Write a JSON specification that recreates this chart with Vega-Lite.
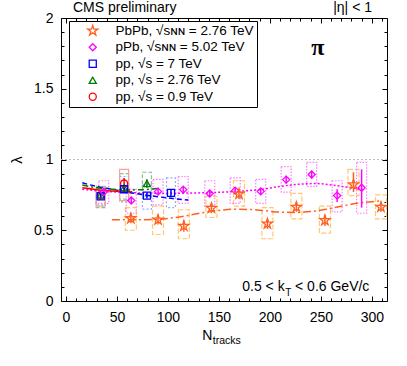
{
  "$schema": "https://vega.github.io/schema/vega-lite/v6.json",
  "width": 326,
  "height": 283,
  "autosize": {"type": "none"},
  "padding": {"left": 61, "top": 18, "right": 20, "bottom": 65},
  "background": "white",
  "config": {
    "view": {"stroke": "black", "strokeWidth": 1},
    "font": "Liberation Sans",
    "axis": {"domain": false, "grid": false, "tickColor": "black", "labelColor": "black", "labelFont": "Liberation Sans", "labelFontSize": 14, "titleFont": "Liberation Sans", "titleColor": "black"},
    "legend": {"labelFont": "Liberation Sans"}
  },
  "datasets": {
    "pts": [
      {"s": "pp09", "N": 34, "l": 0.745, "lo": 0.725, "hi": 0.765, "slo": 0.67, "shi": 0.80},
      {"s": "pp09", "N": 57, "l": 0.83, "lo": 0.79, "hi": 0.87, "slo": 0.71, "shi": 0.93},
      {"s": "pp276", "N": 34, "l": 0.75, "lo": 0.73, "hi": 0.77, "slo": 0.66, "shi": 0.81},
      {"s": "pp276", "N": 57, "l": 0.80, "lo": 0.78, "hi": 0.82, "slo": 0.72, "shi": 0.90},
      {"s": "pp276", "N": 79.4, "l": 0.83, "lo": 0.80, "hi": 0.86, "slo": 0.74, "shi": 0.91},
      {"s": "pp7", "N": 34, "l": 0.74, "lo": 0.72, "hi": 0.76, "slo": 0.68, "shi": 0.80},
      {"s": "pp7", "N": 57, "l": 0.79, "lo": 0.77, "hi": 0.81, "slo": 0.70, "shi": 0.88},
      {"s": "pp7", "N": 79.4, "l": 0.745, "lo": 0.725, "hi": 0.765, "slo": 0.65, "shi": 0.82},
      {"s": "pp7", "N": 103, "l": 0.764, "lo": 0.74, "hi": 0.79, "slo": 0.66, "shi": 0.87},
      {"s": "pPb", "N": 37, "l": 0.77, "lo": 0.75, "hi": 0.79, "slo": 0.69, "shi": 0.85},
      {"s": "pPb", "N": 64, "l": 0.71, "lo": 0.69, "hi": 0.73, "slo": 0.62, "shi": 0.79},
      {"s": "pPb", "N": 90.3, "l": 0.773, "lo": 0.75, "hi": 0.80, "slo": 0.68, "shi": 0.86},
      {"s": "pPb", "N": 115, "l": 0.787, "lo": 0.76, "hi": 0.81, "slo": 0.69, "shi": 0.88},
      {"s": "pPb", "N": 141, "l": 0.76, "lo": 0.735, "hi": 0.785, "slo": 0.67, "shi": 0.85},
      {"s": "pPb", "N": 166, "l": 0.78, "lo": 0.755, "hi": 0.805, "slo": 0.69, "shi": 0.87},
      {"s": "pPb", "N": 191, "l": 0.775, "lo": 0.75, "hi": 0.80, "slo": 0.69, "shi": 0.86},
      {"s": "pPb", "N": 216, "l": 0.858, "lo": 0.83, "hi": 0.885, "slo": 0.77, "shi": 0.95},
      {"s": "pPb", "N": 241, "l": 0.894, "lo": 0.865, "hi": 0.92, "slo": 0.81, "shi": 0.98},
      {"s": "pPb", "N": 266, "l": 0.745, "lo": 0.70, "hi": 0.79, "slo": 0.63, "shi": 0.85},
      {"s": "pPb", "N": 290, "l": 0.80, "lo": 0.66, "hi": 0.93, "slo": 0.62, "shi": 0.98},
      {"s": "PbPb", "N": 63.6, "l": 0.584, "lo": 0.55, "hi": 0.62, "slo": 0.50, "shi": 0.66},
      {"s": "PbPb", "N": 90.3, "l": 0.574, "lo": 0.54, "hi": 0.61, "slo": 0.47, "shi": 0.67},
      {"s": "PbPb", "N": 115.6, "l": 0.53, "lo": 0.49, "hi": 0.57, "slo": 0.44, "shi": 0.645},
      {"s": "PbPb", "N": 142.7, "l": 0.657, "lo": 0.62, "hi": 0.69, "slo": 0.59, "shi": 0.74},
      {"s": "PbPb", "N": 169.7, "l": 0.757, "lo": 0.72, "hi": 0.79, "slo": 0.67, "shi": 0.85},
      {"s": "PbPb", "N": 197.6, "l": 0.546, "lo": 0.51, "hi": 0.58, "slo": 0.44, "shi": 0.66},
      {"s": "PbPb", "N": 226, "l": 0.664, "lo": 0.63, "hi": 0.70, "slo": 0.58, "shi": 0.76},
      {"s": "PbPb", "N": 254, "l": 0.57, "lo": 0.53, "hi": 0.61, "slo": 0.48, "shi": 0.67},
      {"s": "PbPb", "N": 282, "l": 0.823, "lo": 0.77, "hi": 0.91, "slo": 0.745, "shi": 0.93},
      {"s": "PbPb", "N": 309, "l": 0.664, "lo": 0.63, "hi": 0.70, "slo": 0.58, "shi": 0.75}
    ],
    "fits": [
      {"s": "PbPb", "N": 45, "l": 0.575}, {"s": "PbPb", "N": 60, "l": 0.574}, {"s": "PbPb", "N": 75, "l": 0.574},
      {"s": "PbPb", "N": 90, "l": 0.577}, {"s": "PbPb", "N": 105, "l": 0.588}, {"s": "PbPb", "N": 120, "l": 0.605},
      {"s": "PbPb", "N": 135, "l": 0.625}, {"s": "PbPb", "N": 150, "l": 0.64}, {"s": "PbPb", "N": 165, "l": 0.648},
      {"s": "PbPb", "N": 180, "l": 0.647}, {"s": "PbPb", "N": 195, "l": 0.638}, {"s": "PbPb", "N": 210, "l": 0.628},
      {"s": "PbPb", "N": 225, "l": 0.626}, {"s": "PbPb", "N": 240, "l": 0.632}, {"s": "PbPb", "N": 255, "l": 0.648},
      {"s": "PbPb", "N": 270, "l": 0.67}, {"s": "PbPb", "N": 285, "l": 0.69}, {"s": "PbPb", "N": 300, "l": 0.702},
      {"s": "PbPb", "N": 310, "l": 0.708},
      {"s": "pPb", "N": 16, "l": 0.79}, {"s": "pPb", "N": 30, "l": 0.78}, {"s": "pPb", "N": 50, "l": 0.77},
      {"s": "pPb", "N": 70, "l": 0.764}, {"s": "pPb", "N": 90, "l": 0.762}, {"s": "pPb", "N": 110, "l": 0.762},
      {"s": "pPb", "N": 130, "l": 0.764}, {"s": "pPb", "N": 150, "l": 0.768}, {"s": "pPb", "N": 170, "l": 0.776},
      {"s": "pPb", "N": 190, "l": 0.787}, {"s": "pPb", "N": 210, "l": 0.81}, {"s": "pPb", "N": 230, "l": 0.826},
      {"s": "pPb", "N": 245, "l": 0.83}, {"s": "pPb", "N": 260, "l": 0.82}, {"s": "pPb", "N": 275, "l": 0.805},
      {"s": "pPb", "N": 292, "l": 0.785},
      {"s": "pp7", "N": 16, "l": 0.835}, {"s": "pp7", "N": 30, "l": 0.81}, {"s": "pp7", "N": 45, "l": 0.79},
      {"s": "pp7", "N": 60, "l": 0.77}, {"s": "pp7", "N": 75, "l": 0.752}, {"s": "pp7", "N": 90, "l": 0.737},
      {"s": "pp7", "N": 105, "l": 0.724}, {"s": "pp7", "N": 120, "l": 0.713},
      {"s": "pp276", "N": 16, "l": 0.82}, {"s": "pp276", "N": 30, "l": 0.80}, {"s": "pp276", "N": 45, "l": 0.79},
      {"s": "pp276", "N": 60, "l": 0.785}, {"s": "pp276", "N": 75, "l": 0.787}, {"s": "pp276", "N": 90, "l": 0.795},
      {"s": "pp09", "N": 16, "l": 0.80}, {"s": "pp09", "N": 30, "l": 0.787}, {"s": "pp09", "N": 45, "l": 0.778},
      {"s": "pp09", "N": 65, "l": 0.772}
    ]
  },
  "resolve": {"axis": {"x": "independent", "y": "independent"}},
  "layer": [
    {
      "data": {"values": [{}]},
      "mark": {"type": "point", "opacity": 0},
      "encoding": {
        "x": {"datum": 0, "type": "quantitative", "scale": {"domain": [0, 310], "nice": false, "zero": false},
          "axis": {"orient": "bottom", "values": [0, 50, 100, 150, 200, 250, 300], "tickSize": -5, "labelPadding": 14, "title": null, "labelFlush": false}},
        "y": {"datum": 0, "type": "quantitative", "scale": {"domain": [0, 2], "nice": false, "zero": false},
          "axis": {"orient": "left", "values": [0, 0.5, 1, 1.5, 2], "format": "~g", "tickSize": -5, "labelPadding": 13, "title": "λ", "titleFontSize": 15, "titleFontWeight": "normal", "titlePadding": 9, "labelFlush": false}}
      }
    },
    {
      "data": {"values": [{}]},
      "mark": {"type": "point", "opacity": 0},
      "encoding": {
        "x": {"datum": 0, "type": "quantitative",
          "axis": {"orient": "bottom", "values": [10, 20, 30, 40, 60, 70, 80, 90, 110, 120, 130, 140, 160, 170, 180, 190, 210, 220, 230, 240, 260, 270, 280, 290, 310], "tickSize": -3, "labels": false, "title": null}},
        "y": {"datum": 0, "type": "quantitative",
          "axis": {"orient": "left", "values": [0.1, 0.2, 0.3, 0.4, 0.6, 0.7, 0.8, 0.9, 1.1, 1.2, 1.3, 1.4, 1.6, 1.7, 1.8, 1.9], "tickSize": -3, "labels": false, "title": null}}
      }
    },
    {
      "data": {"values": [{}]},
      "mark": {"type": "point", "opacity": 0},
      "encoding": {
        "x": {"datum": 0, "type": "quantitative",
          "axis": {"orient": "top", "values": [0, 50, 100, 150, 200, 250, 300], "tickSize": -5, "labels": false, "title": null}},
        "y": {"datum": 0, "type": "quantitative",
          "axis": {"orient": "right", "values": [0, 0.5, 1, 1.5, 2], "tickSize": -5, "labels": false, "title": null}}
      }
    },
    {
      "data": {"values": [{}]},
      "mark": {"type": "point", "opacity": 0},
      "encoding": {
        "x": {"datum": 0, "type": "quantitative",
          "axis": {"orient": "top", "values": [10, 20, 30, 40, 60, 70, 80, 90, 110, 120, 130, 140, 160, 170, 180, 190, 210, 220, 230, 240, 260, 270, 280, 290, 310], "tickSize": -3, "labels": false, "title": null}},
        "y": {"datum": 0, "type": "quantitative",
          "axis": {"orient": "right", "values": [0.1, 0.2, 0.3, 0.4, 0.6, 0.7, 0.8, 0.9, 1.1, 1.2, 1.3, 1.4, 1.6, 1.7, 1.8, 1.9], "tickSize": -3, "labels": false, "title": null}}
      }
    },
    {
      "data": {"values": [{}]},
      "mark": {"type": "rule", "color": "#c0c0c0", "strokeDash": [2, 2], "strokeWidth": 1},
      "encoding": {"y": {"datum": 1, "type": "quantitative", "axis": null}}
    },
    {
      "data": {"name": "pts"},
      "transform": [{"filter": "datum.s === 'PbPb'"}],
      "mark": {"type": "bar", "width": 11, "fill": "transparent", "stroke": "#ffc870", "strokeWidth": 1.2, "strokeDash": [5, 2]},
      "encoding": {"x": {"field": "N", "type": "quantitative", "axis": null}, "y": {"field": "slo", "type": "quantitative", "axis": null}, "y2": {"field": "shi"}}
    },
    {
      "data": {"name": "pts"},
      "transform": [{"filter": "datum.s === 'pPb'"}],
      "mark": {"type": "bar", "width": 10, "fill": "transparent", "stroke": "#ff7cff", "strokeWidth": 1.2, "strokeDash": [1.5, 1.5]},
      "encoding": {"x": {"field": "N", "type": "quantitative", "axis": null}, "y": {"field": "slo", "type": "quantitative", "axis": null}, "y2": {"field": "shi"}}
    },
    {
      "data": {"name": "pts"},
      "transform": [{"filter": "datum.s === 'pp7'"}],
      "mark": {"type": "bar", "width": 9, "fill": "transparent", "stroke": "#9aa8ff", "strokeWidth": 1.2, "strokeDash": [2, 2]},
      "encoding": {"x": {"field": "N", "type": "quantitative", "axis": null}, "y": {"field": "slo", "type": "quantitative", "axis": null}, "y2": {"field": "shi"}}
    },
    {
      "data": {"name": "pts"},
      "transform": [{"filter": "datum.s === 'pp276'"}],
      "mark": {"type": "bar", "width": 9, "fill": "transparent", "stroke": "#8fc08f", "strokeWidth": 1.2, "strokeDash": [4, 2]},
      "encoding": {"x": {"field": "N", "type": "quantitative", "axis": null}, "y": {"field": "slo", "type": "quantitative", "axis": null}, "y2": {"field": "shi"}}
    },
    {
      "data": {"name": "pts"},
      "transform": [{"filter": "datum.s === 'pp09'"}],
      "mark": {"type": "bar", "width": 9, "fill": "transparent", "stroke": "#f7a0a0", "strokeWidth": 1.2},
      "encoding": {"x": {"field": "N", "type": "quantitative", "axis": null}, "y": {"field": "slo", "type": "quantitative", "axis": null}, "y2": {"field": "shi"}}
    },
    {
      "data": {"name": "fits"},
      "transform": [{"filter": "datum.s === 'PbPb'"}],
      "mark": {"type": "line", "strokeWidth": 1.5, "interpolate": "monotone", "color": "#ff6020", "strokeDash": [8, 3, 2, 3]},
      "encoding": {"x": {"field": "N", "type": "quantitative", "axis": null}, "y": {"field": "l", "type": "quantitative", "axis": null}}
    },
    {
      "data": {"name": "fits"},
      "transform": [{"filter": "datum.s === 'pPb'"}],
      "mark": {"type": "line", "strokeWidth": 1.5, "interpolate": "monotone", "color": "#ff00ff", "strokeDash": [2, 2]},
      "encoding": {"x": {"field": "N", "type": "quantitative", "axis": null}, "y": {"field": "l", "type": "quantitative", "axis": null}}
    },
    {
      "data": {"name": "fits"},
      "transform": [{"filter": "datum.s === 'pp7'"}],
      "mark": {"type": "line", "strokeWidth": 1.5, "interpolate": "monotone", "color": "#0000ff", "strokeDash": [5, 3]},
      "encoding": {"x": {"field": "N", "type": "quantitative", "axis": null}, "y": {"field": "l", "type": "quantitative", "axis": null}}
    },
    {
      "data": {"name": "fits"},
      "transform": [{"filter": "datum.s === 'pp276'"}],
      "mark": {"type": "line", "strokeWidth": 1.5, "interpolate": "monotone", "color": "#007a00", "strokeDash": [6, 3, 2, 3]},
      "encoding": {"x": {"field": "N", "type": "quantitative", "axis": null}, "y": {"field": "l", "type": "quantitative", "axis": null}}
    },
    {
      "data": {"name": "fits"},
      "transform": [{"filter": "datum.s === 'pp09'"}],
      "mark": {"type": "line", "strokeWidth": 1.5, "interpolate": "monotone", "color": "#ff0000"},
      "encoding": {"x": {"field": "N", "type": "quantitative", "axis": null}, "y": {"field": "l", "type": "quantitative", "axis": null}}
    },
    {
      "data": {"name": "pts"},
      "mark": {"type": "rule", "strokeWidth": 1.5},
      "encoding": {
        "x": {"field": "N", "type": "quantitative", "axis": null},
        "y": {"field": "lo", "type": "quantitative", "axis": null},
        "y2": {"field": "hi"},
        "color": {"field": "s", "type": "nominal", "scale": {"domain": ["PbPb", "pPb", "pp7", "pp276", "pp09"], "range": ["#ff6020", "#ff00ff", "#0000ff", "#007a00", "#ff0000"]}}
      }
    },
    {
      "data": {"name": "pts"},
      "mark": {"type": "point", "filled": false, "strokeWidth": 1.3, "size": 50, "opacity": 1},
      "encoding": {
        "x": {"field": "N", "type": "quantitative", "axis": null},
        "y": {"field": "l", "type": "quantitative", "axis": null},
        "color": {"field": "s", "type": "nominal",
          "legend": {"orient": "none", "legendX": 8, "legendY": 3, "title": null, "strokeColor": "black", "fillColor": "white", "padding": 3, "labelFontSize": 13.5, "symbolSize": 50, "symbolStrokeWidth": 1.3, "symbolOffset": 14, "labelOffset": 16, "rowPadding": 1.5,
            "labelExpr": "{'PbPb': 'PbPb, √sɴɴ = 2.76 TeV', 'pPb': 'pPb, √sɴɴ = 5.02 TeV', 'pp7': 'pp, √s = 7 TeV', 'pp276': 'pp, √s = 2.76 TeV', 'pp09': 'pp, √s = 0.9 TeV'}[datum.label] + '  '"}},
        "shape": {"field": "s", "type": "nominal", "scale": {"domain": ["PbPb", "pPb", "pp7", "pp276", "pp09"], "range": ["M0,-1.5L0.34,-0.46L1.43,-0.46L0.55,0.18L0.88,1.22L0,0.57L-0.88,1.22L-0.55,0.18L-1.43,-0.46L-0.34,-0.46Z", "diamond", "square", "triangle-up", "circle"]}}
      }
    },
    {
      "data": {"values": [{}]},
      "mark": {"type": "text", "align": "left", "baseline": "alphabetic", "fontSize": 14, "dx": 7, "dy": -6, "color": "black"},
      "encoding": {"x": {"datum": 0, "type": "quantitative", "axis": null}, "y": {"datum": 2, "type": "quantitative", "axis": null}, "text": {"value": "CMS preliminary"}}
    },
    {
      "data": {"values": [{}]},
      "mark": {"type": "text", "align": "right", "baseline": "alphabetic", "fontSize": 14, "dx": -10, "dy": -6, "color": "black"},
      "encoding": {"x": {"datum": 310, "type": "quantitative", "axis": null}, "y": {"datum": 2, "type": "quantitative", "axis": null}, "text": {"value": "|η| < 1"}}
    },
    {
      "data": {"values": [{}]},
      "mark": {"type": "text", "align": "center", "baseline": "middle", "fontSize": 24, "fontWeight": "bold", "font": "Liberation Serif", "color": "black"},
      "encoding": {"x": {"datum": 247, "type": "quantitative", "axis": null}, "y": {"datum": 1.79, "type": "quantitative", "axis": null}, "text": {"value": "π"}}
    },
    {
      "data": {"values": [{}]},
      "mark": {"type": "text", "align": "right", "baseline": "alphabetic", "fontSize": 14, "color": "black"},
      "encoding": {"x": {"datum": 214.5, "type": "quantitative", "axis": null}, "y": {"datum": 0.073, "type": "quantitative", "axis": null}, "text": {"value": "0.5 < k"}}
    },
    {
      "data": {"values": [{}]},
      "mark": {"type": "text", "align": "left", "baseline": "alphabetic", "fontSize": 10, "color": "black"},
      "encoding": {"x": {"datum": 215, "type": "quantitative", "axis": null}, "y": {"datum": 0.035, "type": "quantitative", "axis": null}, "text": {"value": "T"}}
    },
    {
      "data": {"values": [{}]},
      "mark": {"type": "text", "align": "left", "baseline": "alphabetic", "fontSize": 14, "color": "black"},
      "encoding": {"x": {"datum": 224.7, "type": "quantitative", "axis": null}, "y": {"datum": 0.073, "type": "quantitative", "axis": null}, "text": {"value": "< 0.6 GeV/c"}}
    },
    {
      "data": {"values": [{}]},
      "mark": {"type": "text", "align": "right", "baseline": "alphabetic", "fontSize": 14, "dy": 39, "color": "black"},
      "encoding": {"x": {"datum": 143.7, "type": "quantitative", "axis": null}, "y": {"datum": 0, "type": "quantitative", "axis": null}, "text": {"value": "N"}}
    },
    {
      "data": {"values": [{}]},
      "mark": {"type": "text", "align": "left", "baseline": "alphabetic", "fontSize": 10.5, "dy": 43, "color": "black"},
      "encoding": {"x": {"datum": 144, "type": "quantitative", "axis": null}, "y": {"datum": 0, "type": "quantitative", "axis": null}, "text": {"value": "tracks"}}
    }
  ]
}
